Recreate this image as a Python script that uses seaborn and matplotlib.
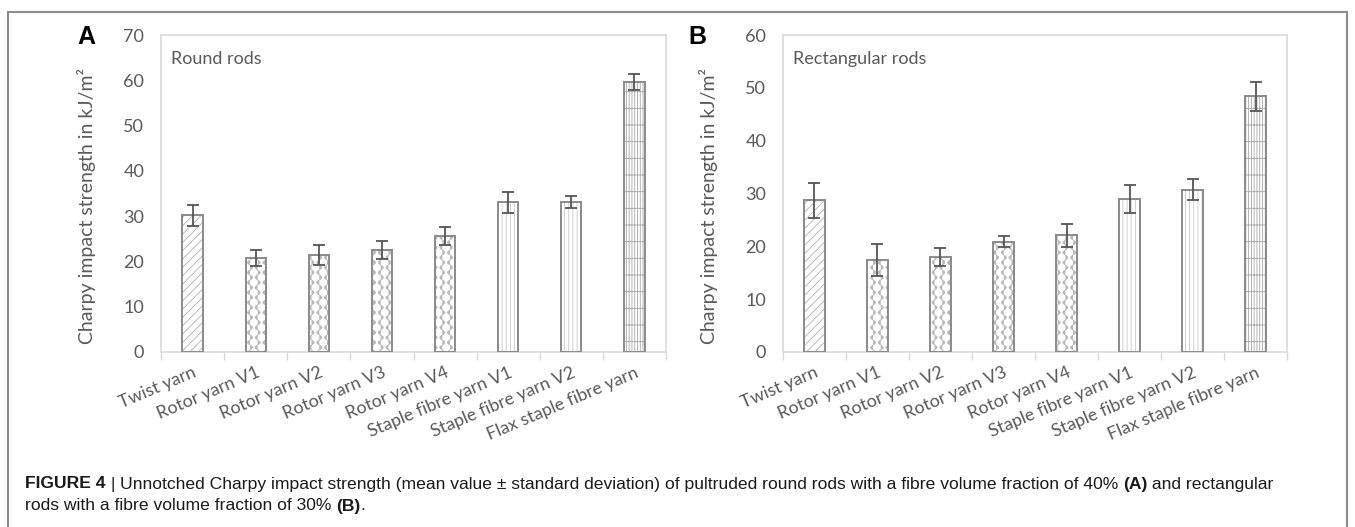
import warnings
warnings.filterwarnings("ignore")
import numpy as np
import pandas as pd
import matplotlib
matplotlib.use("Agg")
import matplotlib.pyplot as plt
import seaborn as sns
from matplotlib import hatch as mhatch
from matplotlib.path import Path
from matplotlib.patches import Rectangle

# ---------------- data ----------------
categories = ["Twist yarn", "Rotor yarn V1", "Rotor yarn V2", "Rotor yarn V3",
              "Rotor yarn V4", "Staple fibre yarn V1", "Staple fibre yarn V2",
              "Flax staple fibre yarn"]
round_mean = [30.2, 20.8, 21.4, 22.5, 25.7, 33.1, 33.1, 59.6]
round_sd = [2.3, 1.7, 2.2, 2.0, 2.0, 2.3, 1.3, 1.8]
rect_mean = [28.7, 17.4, 17.9, 20.9, 22.1, 29.0, 30.7, 48.4]
rect_sd = [3.3, 3.0, 1.7, 1.0, 2.2, 2.6, 2.0, 2.7]
round_ticks = [0, 10, 20, 30, 40, 50, 60, 70]
rect_ticks = [0, 10, 20, 30, 40, 50, 60]
ylabel = "Charpy impact strength in kJ/m²"

hatch_patterns = ["////", "~", "~", "~", "~", "||||", "||||", "||||||-"]
hatch_colors = ["#b0b0b0", "#b8b8b8", "#b8b8b8", "#b8b8b8", "#b8b8b8",
                "#c8c8c8", "#c8c8c8", "#a8a8a8"]


# ---- custom wavy hatch for the rotor yarn bars ----
class WaveHatch(mhatch.HatchPatternBase):
    npts = 80

    def __init__(self, hatch, density):
        self.num_lines = int(hatch.count("~") * density * 2.3)
        self.num_vertices = self.num_lines * self.npts

    def set_vertices_and_codes(self, vertices, codes):
        y = np.linspace(0.0, 1.0, self.npts)
        k = 10
        for i in range(self.num_lines):
            x = (i + 0.5) / self.num_lines + 0.026 * np.sin(2 * np.pi * k * y + (i % 2) * np.pi)
            sl = slice(i * self.npts, (i + 1) * self.npts)
            vertices[sl, 0] = x
            vertices[sl, 1] = y
            codes[sl] = Path.LINETO
            codes[i * self.npts] = Path.MOVETO


mhatch._hatch_types.append(WaveHatch)

# ---------------- style ----------------
sns.set_theme(style="white")
plt.rcParams["font.family"] = ["Lato", "DejaVu Sans"]
plt.rcParams["hatch.linewidth"] = 0.6

GRAY_TXT = "#595959"
SPINE = "#d9d9d9"

fig = plt.figure(figsize=(13.55, 5.27), dpi=100)
W, H = 1355, 527


def fx(px):
    return px / W


def fy(py):
    return 1 - py / H


axA = fig.add_axes([fx(161), fy(352), fx(666) - fx(161), fy(35) - fy(352)])
axB = fig.add_axes([fx(783), fy(352), fx(1287) - fx(783), fy(35) - fy(352)])


def panel(ax, means, sds, ticks, title):
    df = pd.DataFrame({"cat": categories, "val": means})
    sns.barplot(data=df, x="cat", y="val", ax=ax, color="white", width=0.32,
                saturation=1, errorbar=None, order=categories)
    bars = list(ax.patches)
    for p, h, c in zip(bars, hatch_patterns, hatch_colors):
        p.set_facecolor("white")
        p.set_hatch(h)
        p.set_edgecolor(c)
        p.set_linewidth(0)
        ax.add_patch(Rectangle(p.get_xy(), p.get_width(), p.get_height(),
                               fill=False, edgecolor="#8a8a8a", lw=1.4, zorder=3))
    pos = np.arange(len(categories))
    ax.errorbar(pos, means, yerr=sds, fmt="none", ecolor="#555555",
                elinewidth=1.3, capsize=4, capthick=1.3, zorder=4)
    ax.set_xlim(-0.5, len(categories) - 0.5)
    ax.set_ylim(ticks[0], ticks[-1])
    ax.set_yticks(ticks)
    ax.set_yticklabels([str(t) for t in ticks])
    ax.set_xticks(pos)
    ax.set_xticklabels(categories, rotation=23, ha="right", va="top",
                       rotation_mode="anchor")
    ax.set_xticks(np.arange(len(categories) + 1) - 0.5, minor=True)
    ax.tick_params(axis="x", which="major", length=0, pad=9,
                   labelsize=12.8, labelcolor=GRAY_TXT)
    ax.tick_params(axis="x", which="minor", length=6, width=1, color=SPINE,
                   bottom=True)
    ax.tick_params(axis="y", length=0, pad=12, labelsize=13, labelcolor=GRAY_TXT)
    ax.set_xlabel("")
    ax.set_ylabel(ylabel, fontsize=14, color=GRAY_TXT, va="center")
    ax.yaxis.set_label_coords(-0.148, 0.46)
    for s in ax.spines.values():
        s.set_visible(True)
        s.set_color(SPINE)
        s.set_linewidth(1.2)
    ax.grid(False)
    ax.text(0.02, 0.925, title, transform=ax.transAxes, fontsize=13,
            color=GRAY_TXT, ha="left", va="center")


panel(axA, round_mean, round_sd, round_ticks, "Round rods")
panel(axB, rect_mean, rect_sd, rect_ticks, "Rectangular rods")

fig.text(fx(86), fy(37), "A", fontsize=18, fontweight="bold",
         family=["Liberation Sans"], ha="center", va="center", color="black")
fig.text(fx(697), fy(37), "B", fontsize=18, fontweight="bold",
         family=["Liberation Sans"], ha="center", va="center", color="black")

# figure frame
fig.add_artist(Rectangle((fx(8), -0.02), fx(1347) - fx(8), fy(12) + 0.02,
                         transform=fig.transFigure, fill=False,
                         edgecolor="#8c8c8c", lw=1.5))

# caption with mixed bold parts
cap_family = ["Liberation Sans"]
cap_size = 12.6
renderer = fig.canvas.get_renderer()


def caption_line(parts, x0, y0):
    x = x0
    for txt, bold in parts:
        t = fig.text(x, y0, txt, fontsize=cap_size, family=cap_family,
                     fontweight="bold" if bold else "normal",
                     ha="left", va="center", color="#1a1a1a")
        bb = t.get_window_extent(renderer=renderer)
        x += bb.width / W


caption_line([("FIGURE 4", True), (" | ", False),
              ("Unnotched Charpy impact strength (mean value ± standard deviation) of pultruded round rods with a fibre volume fraction of 40% ", False),
              ("(A)", True), (" and rectangular", False)], fx(25), fy(484))
caption_line([("rods with a fibre volume fraction of 30% ", False), ("(B)", True),
              (".", False)], fx(25), fy(506))

fig.savefig("out.png", dpi=100)
